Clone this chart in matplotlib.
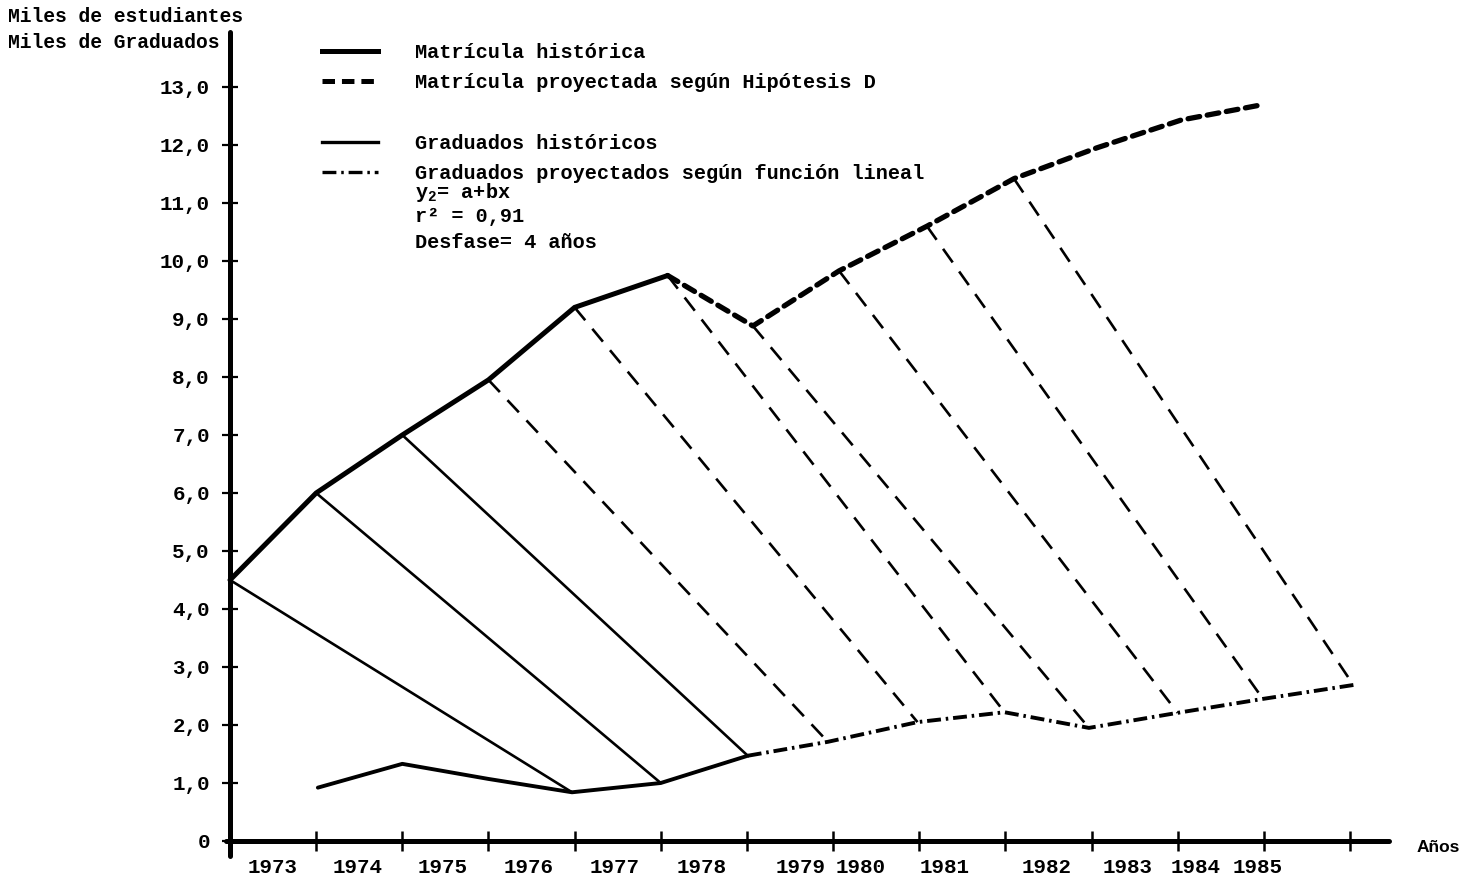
import matplotlib
matplotlib.use('Agg')
import matplotlib.pyplot as plt
from matplotlib.lines import Line2D
from matplotlib.font_manager import FontProperties

plt.rcParams['font.family'] = ['Liberation Mono', 'DejaVu Sans Mono']
plt.rcParams['lines.scale_dashes'] = False
plt.rcParams['mathtext.fontset'] = 'custom'
plt.rcParams['mathtext.rm'] = 'Liberation Mono'
plt.rcParams['mathtext.it'] = 'Liberation Mono'
plt.rcParams['mathtext.bf'] = 'Liberation Mono:bold'

# ---------------- data (x = position in years from the origin, y = thousands) ----------------
mat_hist_x = [0, 1, 2, 3, 4, 5.08]
mat_hist_y = [4.5, 6.0, 7.0, 7.95, 9.2, 9.75]
mat_proj_x = [5.08, 6.07, 7.07, 8.09, 9.1, 10.06, 11.04, 12.0]
mat_proj_y = [9.75, 8.88, 9.83, 10.6, 11.42, 11.95, 12.43, 12.7]
grad_hist_x = [1.02, 2.0, 3.0, 3.97, 5.0, 6.01]
grad_hist_y = [0.92, 1.33, 1.07, 0.84, 1.0, 1.47]
grad_proj_x = [6.01, 6.94, 7.98, 8.99, 9.97, 11.0, 11.99, 13.04]
grad_proj_y = [1.47, 1.71, 2.05, 2.22, 1.95, 2.21, 2.45, 2.69]
desfase = 4           # lag in years between enrolment and graduation
n_links = 10          # number of enrolment -> graduate links drawn

years = ['1973', '1974', '1975', '1976', '1977', '1978', '1979',
         '1980', '1981', '1982', '1983', '1984', '1985']
year_label_pos = [0.49, 1.48, 2.47, 3.47, 4.47, 5.47, 6.62,
                  7.32, 8.3, 9.48, 10.42, 11.21, 11.93]
x_tick_pos = list(range(1, 14))
y_tick_pos = list(range(0, 14))
y_tick_labels = ['0'] + ['%d,0' % v for v in range(1, 14)]

legend_labels = ['Matrícula histórica',
                 'Matrícula proyectada según Hipótesis D',
                 ' ',
                 'Graduados históricos',
                 'Graduados proyectados según función lineal']
extra_notes = [r'y$_{\mathbf{2}}$= a+bx', 'r² = 0,91', 'Desfase= 4 años']

# ---------------- figure ----------------
W, H = 1475, 882
fig = plt.figure(figsize=(W / 100, H / 100), dpi=100)
fig.patch.set_facecolor('white')

def fx(px):
    return px / W

def fy(py):
    return 1 - py / H

MONO = ['Liberation Mono', 'DejaVu Sans Mono']

# axes placement (pixels of the reference)
x_unit = 86.15
y_unit = 58.0
x0_px, y0_px = 230.0, 841.0
xmin, xmax = -0.05, 13.45
ymin, ymax = -0.25, 13.95
left_px = x0_px + xmin * x_unit
right_px = x0_px + xmax * x_unit
bot_px = y0_px - ymin * y_unit
top_px = y0_px - ymax * y_unit
ax = fig.add_axes([fx(left_px), fy(bot_px), (right_px - left_px) / W, (bot_px - top_px) / H])
ax.set_xlim(xmin, xmax)
ax.set_ylim(ymin, ymax)

# spines
for s in ['top', 'right']:
    ax.spines[s].set_visible(False)
ax.spines['left'].set_position(('data', 0))
ax.spines['bottom'].set_position(('data', 0))
ax.spines['left'].set_linewidth(3.6)
ax.spines['bottom'].set_linewidth(3.6)
ax.spines['left'].set_capstyle('round')
ax.spines['bottom'].set_capstyle('round')

# ticks
tick_font = dict(family=MONO, weight='bold', size=15)
ax.set_yticks(y_tick_pos)
ax.set_yticklabels(y_tick_labels, fontdict=tick_font)
ax.tick_params(axis='y', direction='inout', length=11, width=1.6, pad=9)
ax.set_xticks(x_tick_pos)
ax.set_xticklabels([])
ax.tick_params(axis='x', which='major', direction='inout', length=15, width=1.8)
ax.set_xticks(year_label_pos, minor=True)
ax.set_xticklabels(years, minor=True, fontdict=tick_font)
ax.tick_params(axis='x', which='minor', length=0, pad=12)

# ---------------- link lines enrolment(t) -> graduates(t + desfase) ----------------
enr_x = mat_hist_x + mat_proj_x[1:]
enr_y = mat_hist_y + mat_proj_y[1:]
grd_x = grad_hist_x + grad_proj_x[1:]
grd_y = grad_hist_y + grad_proj_y[1:]
n_hist_grad = len(grad_hist_x)
for k in range(n_links):
    g = k + desfase - 1
    if g < n_hist_grad:
        ax.plot([enr_x[k], grd_x[g]], [enr_y[k], grd_y[g]], color='black', lw=1.9,
                solid_capstyle='round', zorder=2)
    else:
        ax.plot([enr_x[k], grd_x[g]], [enr_y[k], grd_y[g]], color='black', lw=1.9,
                dashes=(12, 8), zorder=2)

# ---------------- main series ----------------
ax.plot(mat_hist_x, mat_hist_y, color='black', lw=3.6, solid_joinstyle='miter',
        solid_capstyle='round', zorder=4)
ax.plot(mat_proj_x, mat_proj_y, color='black', lw=3.8, dashes=(8.5, 5.5),
        dash_capstyle='round', zorder=4)
ax.plot(grad_hist_x, grad_hist_y, color='black', lw=2.8, solid_capstyle='round', zorder=4)
ax.plot(grad_proj_x, grad_proj_y, color='black', lw=2.8, dashes=(10, 3.5, 1.8, 3.5), zorder=4)

# ---------------- legend ----------------
handles = [Line2D([], [], color='black', lw=3.6),
           Line2D([], [], color='black', lw=3.6, dashes=(9, 5)),
           Line2D([], [], linestyle='none'),
           Line2D([], [], color='black', lw=2.4),
           Line2D([], [], color='black', lw=2.4, dashes=(10, 3.5, 1.8, 3.5))]
leg_font = FontProperties(family=MONO, size=14.6, weight='bold')
leg = ax.legend(handles=handles, labels=legend_labels, loc='upper left',
                bbox_to_anchor=(fx(322), fy(43)), bbox_transform=fig.transFigure,
                frameon=False, borderpad=0, borderaxespad=0, handlelength=2.75,
                handletextpad=1.85, labelspacing=0.56, prop=leg_font)

note_y = [193, 217, 242]
for txt, py in zip(extra_notes, note_y):
    fig.text(fx(415), fy(py), txt, fontproperties=leg_font, ha='left', va='center')

# ---------------- axis titles ----------------
fig.text(fx(8), fy(17), 'Miles de estudiantes', family=MONO,
         weight='bold', size=14.1, ha='left', va='center')
fig.text(fx(8), fy(42), 'Miles de Graduados', family=MONO,
         weight='bold', size=14.1, ha='left', va='center')
fig.text(fx(1438), fy(848), 'Años', family=['Liberation Sans', 'DejaVu Sans'],
         weight='bold', size=12.5, ha='center', va='center')

fig.savefig('out.png', dpi=100, facecolor='white')
